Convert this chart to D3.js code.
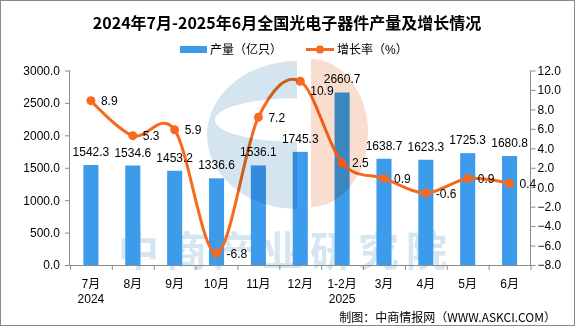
<!DOCTYPE html>
<html>
<head>
<meta charset="utf-8">
<script src="https://cdn.jsdelivr.net/npm/d3@7"></script>
<style>
  body { margin: 0; background: #fff; }
  svg text { font-family: "Liberation Sans", "Noto Sans CJK SC", sans-serif; }
</style>
</head>
<body>
<svg id="canvas" width="575" height="326"></svg>
<script>
// data
const months = ["7月", "8月", "9月", "10月", "11月", "12月", "1-2月", "3月", "4月", "5月", "6月"];
const years = ["2024", "", "", "", "", "", "2025", "", "", "", ""];
const output = [1542.3, 1534.6, 1453.2, 1336.6, 1536.1, 1745.3, 2660.7, 1638.7, 1623.3, 1725.3, 1680.8];
const growth = [8.9, 5.3, 5.9, -6.8, 7.2, 10.9, 2.5, 0.9, -0.6, 0.9, 0.4];
const leftTicks = [0, 500, 1000, 1500, 2000, 2500, 3000];
const rightTicks = [-8, -6, -4, -2, 0, 2, 4, 6, 8, 10, 12];

const cjk = '"Noto Sans CJK SC", sans-serif';
const barColor = "#3d9beb", lineColor = "#f7691f", axisColor = "#8c8c8c";

let svg = d3.select("#canvas");

// outer frame
svg.append("rect").attr("x", 0.5).attr("y", 0.5).attr("width", 574).attr("height", 325)
  .attr("fill", "#fff").attr("stroke", "#8a8a8a");

// watermark text sits behind the bars
svg.append("text").attr("x", 118).attr("y", 266)
  .style("font-family", cjk).style("font-weight", "bold").style("font-size", "41px")
  .style("letter-spacing", "7px")
  .attr("fill", "#d6e6f0").text("中商产业研究院");

// title
svg.append("text").attr("x", 287).attr("y", 29).attr("text-anchor", "middle")
  .style("font-family", cjk).style("font-weight", "bold").style("font-size", "16px")
  .text("2024年7月-2025年6月全国光电子器件产量及增长情况");

// legend
let legend = svg.append("g").style("font-family", cjk).style("font-size", "12px");
legend.append("rect").attr("x", 180).attr("y", 46).attr("width", 27).attr("height", 7).attr("fill", barColor);
legend.append("text").attr("x", 210).attr("y", 54).text("产量（亿只）");
legend.append("line").attr("x1", 306).attr("x2", 334).attr("y1", 49.5).attr("y2", 49.5)
  .attr("stroke", lineColor).attr("stroke-width", 3);
legend.append("circle").attr("cx", 320).attr("cy", 49.5).attr("r", 4).attr("fill", lineColor);
legend.append("text").attr("x", 337).attr("y", 54).text("增长率（%）");

// scales
let x = d3.scaleBand().domain(months).range([70, 530.5]).paddingInner(0.64).paddingOuter(0.32);
let xEdge = d3.scaleLinear().domain([0, months.length]).range([70, 530.5]);
let yL = d3.scaleLinear().domain([0, 3000]).range([265, 70.5]);
let yR = d3.scaleLinear().domain([-8, 12]).range([265, 70.5]);
let cx = d => x(d) + x.bandwidth() / 2;

// bars
svg.append("g").selectAll("rect").data(output).enter().append("rect")
  .attr("x", (d, i) => x(months[i])).attr("width", x.bandwidth())
  .attr("y", d => yL(d)).attr("height", d => yL(0) - yL(d))
  .attr("fill", barColor);

// left axis
let gl = svg.append("g").attr("transform", "translate(70,0)")
  .call(d3.axisLeft(yL).tickValues(leftTicks).tickFormat(d3.format(".1f")).tickSize(5).tickPadding(5));
// right axis
let gr = svg.append("g").attr("transform", "translate(530.5,0)")
  .call(d3.axisRight(yR).tickValues(rightTicks).tickFormat(d3.format(".1f")).tickSize(5).tickPadding(3));
// bottom axis: ticks on category edges
let gb = svg.append("g").attr("transform", "translate(0,265)")
  .call(d3.axisBottom(xEdge).tickValues(d3.range(0, months.length + 1)).tickFormat("").tickSize(5).tickSizeOuter(0));
[gl, gr, gb].forEach(g => {
  g.selectAll("path, line").attr("stroke", axisColor);
  g.selectAll("text").attr("fill", "#000").style("font-size", "12px")
    .style("font-family", '"Liberation Sans", sans-serif');
});
gl.select(".domain").attr("d", "M-0.5,70.5V265.5");
gr.select(".domain").attr("d", "M0,70.5V265.5");
gr.selectAll("text").attr("text-anchor", "start").attr("x", 7);

// category labels
let xl = svg.append("g").style("font-family", cjk).style("font-size", "12px").attr("text-anchor", "middle");
xl.selectAll(".m").data(months).enter().append("text").attr("class", "m")
  .attr("x", d => cx(d)).attr("y", 288).text(d => d);
xl.selectAll(".yr").data(years).enter().append("text").attr("class", "yr")
  .attr("x", (d, i) => cx(months[i])).attr("y", 303).text(d => d);

// growth line
let line = d3.line().x((d, i) => cx(months[i])).y(d => yR(d)).curve(d3.curveCardinal.tension(0));
svg.append("path").datum(growth).attr("d", line).attr("fill", "none")
  .attr("stroke", lineColor).attr("stroke-width", 3);
svg.append("g").selectAll("circle").data(growth).enter().append("circle")
  .attr("cx", (d, i) => cx(months[i])).attr("cy", d => yR(d)).attr("r", 4.5).attr("fill", lineColor);

// bar labels
svg.append("g").attr("text-anchor", "middle").style("font-size", "12px")
  .selectAll("text").data(output).enter().append("text")
  .attr("x", (d, i) => cx(months[i])).attr("y", d => yL(d) - 9).text(d => d.toFixed(1));

// growth labels, the peak one nudged down so it clears the tall bar's label
let peak = d3.maxIndex(growth);
svg.append("g").style("font-size", "12px")
  .selectAll("text").data(growth).enter().append("text")
  .attr("x", (d, i) => cx(months[i]) + 10)
  .attr("y", (d, i) => yR(d) + 4.5 + (i === peak ? 9 : 0))
  .text(d => d.toFixed(1));

// logo watermark (multiplied over the chart)
let wm = svg.append("g").style("mix-blend-mode", "multiply");
wm.append("path").attr("fill", "#d4e5ef").attr("fill-rule", "evenodd")
  .attr("d", "M297,61 A90,74 0 0 0 297,209 Z M297,98 A82,22 0 0 0 297,142 Z");
wm.append("path").attr("fill", "#f9ddcf")
  .attr("d", "M311,59 A57,74 0 0 1 311,207 Z");

// source
svg.append("text").attr("x", 556).attr("y", 322).attr("text-anchor", "end")
  .style("font-family", cjk).style("font-size", "12px")
  .text("制图：中商情报网（WWW.ASKCI.COM）");
</script>
</body>
</html>
